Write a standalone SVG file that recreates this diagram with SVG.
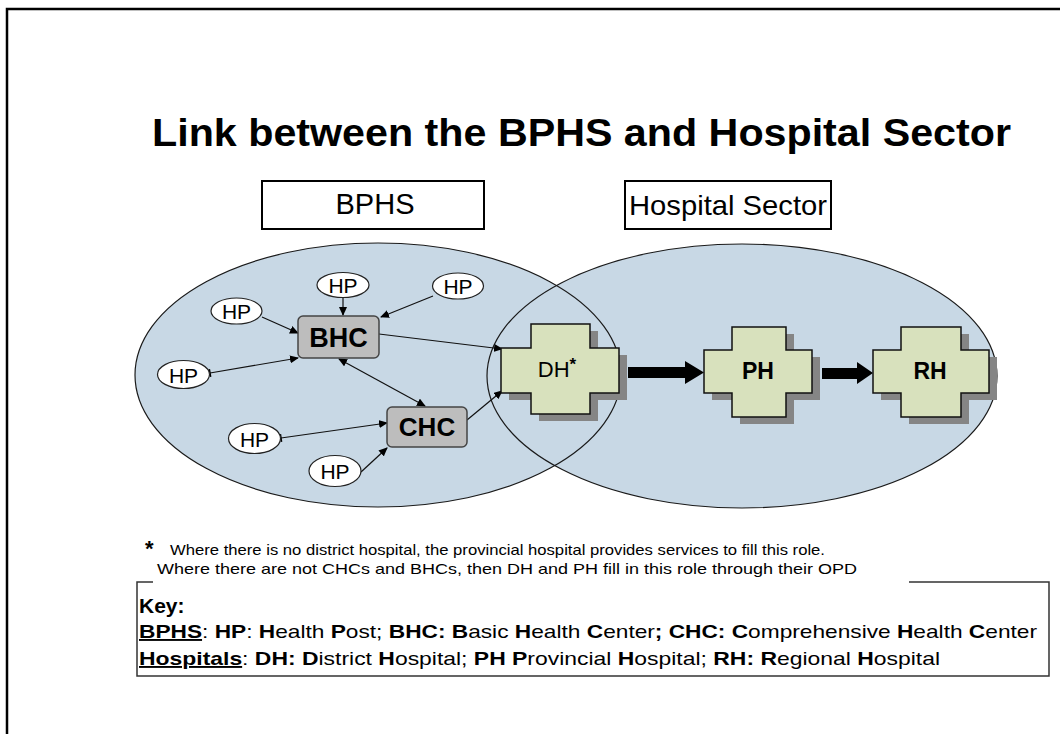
<svg xmlns="http://www.w3.org/2000/svg" width="1060" height="734" viewBox="0 0 1060 734">
<style>
  .t { font-family: "Liberation Sans", Arial, sans-serif; fill: #000; }
  .b { font-weight: bold; }
  .sector { fill: #c8d8e5; stroke: none; }
  .sectorline { fill: none; stroke: #1a1a1a; stroke-width: 1.2; }
  .hp { fill: #fff; stroke: #222; stroke-width: 1.2; }
  .ctr { fill: #bdbdbd; stroke: #444; stroke-width: 1.5; }
  .cross { fill: #d8e1bd; stroke: #111; stroke-width: 1.5; }
  .shadow { fill: #858585; }
  .conn { fill: none; stroke: #111; stroke-width: 1.2; }
  .box { fill: #fff; stroke: #000; stroke-width: 2; }
</style>
<defs>
  <marker id="ah" markerUnits="userSpaceOnUse" markerWidth="9" markerHeight="8" refX="8" refY="4" orient="auto">
    <path d="M0,0 L9,4 L0,8 Z" fill="#000"/>
  </marker>
  <marker id="ahs" markerUnits="userSpaceOnUse" markerWidth="9" markerHeight="8" refX="1" refY="4" orient="auto">
    <path d="M9,0 L0,4 L9,8 Z" fill="#000"/>
  </marker>
  <marker id="tick" markerUnits="userSpaceOnUse" markerWidth="4" markerHeight="10" refX="1" refY="5" orient="auto">
    <path d="M1,1 L1,9" stroke="#000" stroke-width="1.5"/>
  </marker>
</defs>

<rect width="1060" height="734" fill="#fff"/>
<path d="M7,734 V9 H1060" fill="none" stroke="#000" stroke-width="2.5"/>

<text class="t b" x="152" y="146" font-size="38" textLength="859" lengthAdjust="spacingAndGlyphs">Link between the BPHS and Hospital Sector</text>

<g id="bphs-label">
  <rect class="box" x="262" y="181" width="222" height="48"/>
  <text class="t" x="375" y="214" font-size="29" text-anchor="middle">BPHS</text>
</g>
<g id="hospital-label">
  <rect class="box" x="625" y="181" width="206" height="48"/>
  <text class="t" x="629" y="215" font-size="28" textLength="198" lengthAdjust="spacingAndGlyphs">Hospital Sector</text>
</g>

<g id="sectors">
  <ellipse class="sector" cx="378" cy="375" rx="243" ry="132"/>
  <ellipse class="sector" cx="742" cy="376" rx="255" ry="132"/>
  <ellipse class="sectorline" cx="378" cy="375" rx="243" ry="132"/>
  <ellipse class="sectorline" cx="742" cy="376" rx="255" ry="132"/>
</g>

<g id="connectors">
  <line class="conn" x1="343" y1="297" x2="343" y2="315" marker-end="url(#ah)"/>
  <line class="conn" x1="433" y1="296" x2="381" y2="317" marker-end="url(#ah)"/>
  <line class="conn" x1="262" y1="317" x2="298" y2="333" marker-end="url(#ah)"/>
  <line class="conn" x1="210" y1="373" x2="298" y2="358" marker-start="url(#tick)" marker-end="url(#ah)"/>
  <line class="conn" x1="339" y1="359" x2="425" y2="406" marker-start="url(#ahs)" marker-end="url(#ah)"/>
  <line class="conn" x1="379" y1="334" x2="502" y2="349" marker-end="url(#ah)"/>
  <line class="conn" x1="467" y1="420" x2="502" y2="391" marker-end="url(#ah)"/>
  <line class="conn" x1="281" y1="438" x2="387" y2="423" marker-start="url(#tick)" marker-end="url(#ah)"/>
  <line class="conn" x1="361" y1="472" x2="387" y2="448" marker-end="url(#ah)"/>
  <polygon points="628,367 685,367 685,361 704,372.5 685,384 685,378 628,378" fill="#000"/>
  <polygon points="822,368 857,368 857,362 873,373 857,384 857,379 822,379" fill="#000"/>
</g>

<g id="hp1"><ellipse class="hp" cx="343" cy="285" rx="26" ry="12.5"/><text class="t" x="343" y="293" font-size="21" text-anchor="middle">HP</text></g>
<g id="hp2"><ellipse class="hp" cx="458" cy="286" rx="25.5" ry="13"/><text class="t" x="458" y="294" font-size="21" text-anchor="middle">HP</text></g>
<g id="hp3"><ellipse class="hp" cx="236.5" cy="311" rx="25.5" ry="13"/><text class="t" x="236.5" y="319" font-size="21" text-anchor="middle">HP</text></g>
<g id="hp4"><ellipse class="hp" cx="183.5" cy="374.5" rx="26" ry="14"/><text class="t" x="183.5" y="382.5" font-size="21" text-anchor="middle">HP</text></g>
<g id="hp5"><ellipse class="hp" cx="254.5" cy="438.5" rx="26" ry="15"/><text class="t" x="254.5" y="446.5" font-size="21" text-anchor="middle">HP</text></g>
<g id="hp6"><ellipse class="hp" cx="335" cy="471" rx="26" ry="15.5"/><text class="t" x="335" y="479" font-size="21" text-anchor="middle">HP</text></g>

<g id="bhc">
  <rect class="ctr" x="298" y="316" width="81" height="42" rx="5"/>
  <text class="t b" x="338.5" y="347" font-size="27" text-anchor="middle">BHC</text>
</g>
<g id="chc">
  <rect class="ctr" x="387" y="407" width="80" height="40" rx="5"/>
  <text class="t b" x="427" y="436" font-size="26" text-anchor="middle">CHC</text>
</g>

<g id="dh">
  <path class="shadow" d="M539,331 H598 V355 H627 V400 H598 V421 H539 V400 H509 V355 H539 Z"/>
  <path class="cross" d="M531,324 H590 V348 H619 V393 H590 V414 H531 V393 H501 V348 H531 Z"/>
  <text class="t" x="557" y="377" font-size="22" text-anchor="middle">DH<tspan dy="-7" font-size="17" font-weight="bold">*</tspan></text>
</g>
<g id="ph">
  <path class="shadow" d="M740,334 H794 V357 H820 V400 H794 V424 H740 V400 H712 V357 H740 Z"/>
  <path class="cross" d="M732,327 H786 V350 H812 V393 H786 V417 H732 V393 H704 V350 H732 Z"/>
  <text class="t b" x="758" y="379" font-size="23" text-anchor="middle">PH</text>
</g>
<g id="rh">
  <path class="shadow" d="M909,334 H969 V357 H997 V400 H969 V424 H909 V400 H881 V357 H909 Z"/>
  <path class="cross" d="M901,327 H961 V350 H989 V393 H961 V417 H901 V393 H873 V350 H901 Z"/>
  <text class="t b" x="930" y="379" font-size="23" text-anchor="middle">RH</text>
</g>

<g id="footnote">
  <text class="t b" x="145" y="556" font-size="22">*</text>
  <text class="t" x="170" y="555" font-size="15" textLength="655" lengthAdjust="spacingAndGlyphs">Where there is no district hospital, the provincial hospital provides services to fill this role.</text>
  <text class="t" x="157" y="574" font-size="15" textLength="700" lengthAdjust="spacingAndGlyphs">Where there are not CHCs and BHCs, then DH and PH fill in this role through their OPD</text>
</g>

<g id="key">
  <path d="M153,582 H137 V676 H1049 V582 H909" fill="none" stroke="#333" stroke-width="1.5"/>
  <text class="t b" x="139" y="613" font-size="21">Key:</text>
  <text class="t" x="139" y="638" font-size="19" textLength="898" lengthAdjust="spacingAndGlyphs"><tspan class="b" text-decoration="underline">BPHS</tspan>: <tspan class="b">HP</tspan>: <tspan class="b">H</tspan>ealth <tspan class="b">P</tspan>ost;  <tspan class="b">BHC: B</tspan>asic <tspan class="b">H</tspan>ealth <tspan class="b">C</tspan>enter<tspan class="b">; CHC: C</tspan>omprehensive <tspan class="b">H</tspan>ealth <tspan class="b">C</tspan>enter</text>
  <text class="t" x="139" y="665" font-size="19" textLength="801" lengthAdjust="spacingAndGlyphs"><tspan class="b" text-decoration="underline">Hospitals</tspan>:  <tspan class="b">DH: D</tspan>istrict <tspan class="b">H</tspan>ospital;  <tspan class="b">PH P</tspan>rovincial <tspan class="b">H</tspan>ospital;  <tspan class="b">RH: R</tspan>egional <tspan class="b">H</tspan>ospital</text>
</g>
</svg>
